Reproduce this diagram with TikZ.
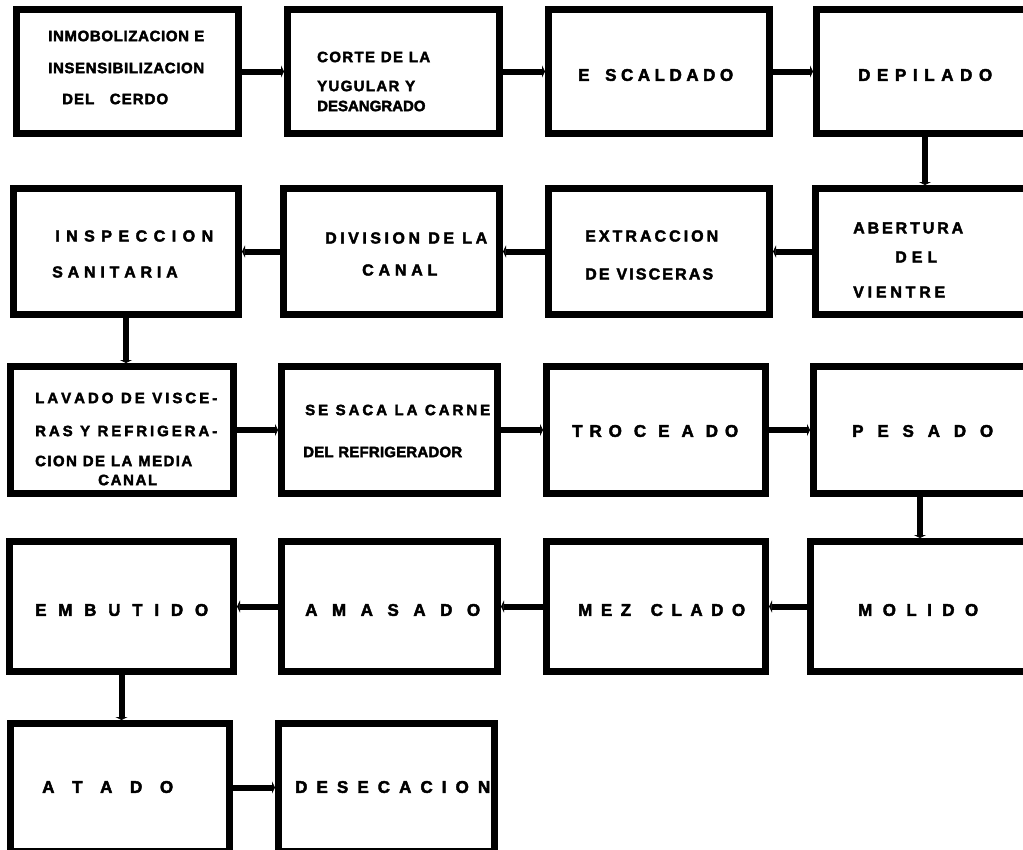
\documentclass[tikz,border=0pt]{standalone}
\usepackage{fontspec}
\setmainfont{Liberation Sans}[BoldFeatures={FakeBold=2.5}]
\usetikzlibrary{arrows.meta}
\XeTeXinterchartokenstate=0
\newXeTeXintercharclass\lettcls
\makeatletter
\@tempcnta=`A
\loop \XeTeXcharclass\@tempcnta=\lettcls \ifnum\@tempcnta<`Z \advance\@tempcnta 1 \repeat
\XeTeXcharclass`\-=\lettcls
\makeatother
\XeTeXinterchartoks\lettcls\lettcls={\hskip 0pt plus 1fil\relax}
\newcommand\spr[2]{\hbox to #1pt{\XeTeXinterchartokenstate=1\relax\spaceskip=.3em plus 1fil\relax #2}}
\tikzset{
  pbox/.style={draw, line width=7pt, rectangle, inner sep=0pt},
  conn/.style={line width=6pt, -{Triangle[length=3pt,width=12pt]}},
  tA/.style={anchor=west, inner sep=0pt, font=\bfseries\fontsize{15}{17}\selectfont},
  tB/.style={anchor=west, inner sep=0pt, font=\bfseries\fontsize{16}{18}\selectfont},
  tC/.style={anchor=west, inner sep=0pt, font=\bfseries\fontsize{17}{19}\selectfont},
}
\begin{document}
\begin{tikzpicture}[x=1pt,y=-1pt]
\useasboundingbox (0,0) rectangle (1023,849);
\clip (0,0) rectangle (1023,849);
% row 1
\node[pbox, minimum width=222pt, minimum height=124pt] (r1c1) at (127.5,71.5) {};
\node[pbox, minimum width=212pt, minimum height=124pt] (r1c2) at (393.5,71.5) {};
\node[pbox, minimum width=221pt, minimum height=124pt] (r1c3) at (659,71.5) {};
\node[pbox, minimum width=217pt, minimum height=124pt] (r1c4) at (925,71.5) {};
% row 2
\node[pbox, minimum width=225pt, minimum height=126pt] (r2c1) at (126,251.5) {};
\node[pbox, minimum width=216pt, minimum height=126pt] (r2c2) at (391.5,251.5) {};
\node[pbox, minimum width=221pt, minimum height=126pt] (r2c3) at (659,251.5) {};
\node[pbox, minimum width=219pt, minimum height=126pt] (r2c4) at (925,251.5) {};
% row 3
\node[pbox, minimum width=223pt, minimum height=127pt] (r3c1) at (122,430) {};
\node[pbox, minimum width=216pt, minimum height=127pt] (r3c2) at (389.5,430) {};
\node[pbox, minimum width=219pt, minimum height=127pt] (r3c3) at (656,430) {};
\node[pbox, minimum width=213pt, minimum height=127pt] (r3c4) at (920,430) {};
% row 4
\node[pbox, minimum width=224pt, minimum height=130pt] (r4c1) at (121.5,606.5) {};
\node[pbox, minimum width=216pt, minimum height=130pt] (r4c2) at (389.5,606.5) {};
\node[pbox, minimum width=219pt, minimum height=130pt] (r4c3) at (656,606.5) {};
\node[pbox, minimum width=219pt, minimum height=130pt] (r4c4) at (920,606.5) {};
% row 5
\node[pbox, minimum width=219pt, minimum height=128pt] (r5c1) at (120,787.5) {};
\node[pbox, minimum width=216pt, minimum height=128pt] (r5c2) at (386.5,787.5) {};
% texts
\node[tA] (t1) at (48,36) {\spr{156}{INMOBOLIZACION E}};
\node[tA] (t2) at (48,68) {\spr{156}{INSENSIBILIZACION}};
\node[tA] (t3) at (62,99) {\spr{106}{DEL \hspace{10pt}CERDO}};
\node[tA] (t4) at (317,57) {\spr{113}{CORTE DE LA}};
\node[tA] (t5) at (317,86) {\spr{98}{YUGULAR Y}};
\node[tA] (t6) at (317,106) {\spr{105}{DESANGRADO}};
\node[tC] (t7) at (578,75) {\spr{155}{E \hspace{6pt}SCALDADO}};
\node[tC] (t8) at (858,75) {\spr{134}{D E P I L A D O}};
\node[tB] (t9) at (55,236) {\spr{158}{I N S P E C C I O N}};
\node[tB] (t10) at (52,272) {\spr{123}{S A N I T A R I A}};
\node[tB] (t11) at (325,238) {\spr{162}{DIVISION DE LA}};
\node[tB] (t12) at (362,270) {\spr{66}{C A N A L}};
\node[tB] (t13) at (585,236) {\spr{133}{EXTRACCION}};
\node[tB] (t14) at (585,274) {\spr{128}{DE VISCERAS}};
\node[tB] (t15) at (853,228) {\spr{110}{ABERTURA}};
\node[tB] (t16) at (895,257) {\spr{42}{DEL}};
\node[tB] (t17) at (853,292) {\spr{92}{VIENTRE}};
\node[tA] (t18) at (35,398) {\spr{182}{LAVADO DE VISCE-}};
\node[tA] (t19) at (35,431) {\spr{182}{RAS Y REFRIGERA-}};
\node[tA] (t20) at (35,461) {\spr{157}{CION DE LA MEDIA}};
\node[tA] (t21) at (98,480) {\spr{59}{CANAL}};
\node[tA] (t22) at (305,410) {\spr{185}{SE SACA LA CARNE}};
\node[tA] (t23) at (303,452) {\spr{159}{DEL REFRIGERADOR}};
\node[tC] (t24) at (572,431) {\spr{166}{TRO C E A DO}};
\node[tC] (t25) at (852,431) {\spr{141}{P E S A D O}};
\node[tC] (t26) at (35,610) {\spr{173}{E M B U T I D O}};
\node[tC] (t27) at (305,610) {\spr{175}{A M A S A D O}};
\node[tC] (t28) at (578,610) {\spr{167}{MEZ \hspace{6pt}CLADO}};
\node[tC] (t29) at (858,610) {\spr{120}{M O L I D O}};
\node[tC] (t30) at (42,787) {\spr{131}{A T A D O}};
\node[tC] (t31) at (295,787) {\spr{195}{D E S E C A C I O N}};
% connectors
\draw[conn] (r1c1.east) -- (r1c2.west);
\draw[conn] (r1c2.east) -- (r1c3.west);
\draw[conn] (r1c3.east) -- (r1c4.west);
\draw[conn] (r1c4.south) -- (r1c4.south |- r2c4.north);
\draw[conn] (r2c4.west) -- (r2c3.east);
\draw[conn] (r2c3.west) -- (r2c2.east);
\draw[conn] (r2c2.west) -- (r2c1.east);
\draw[conn] (r2c1.south) -- (r2c1.south |- r3c1.north);
\draw[conn] (r3c1.east) -- (r3c2.west);
\draw[conn] (r3c2.east) -- (r3c3.west);
\draw[conn] (r3c3.east) -- (r3c4.west);
\draw[conn] (r3c4.south) -- (r3c4.south |- r4c4.north);
\draw[conn] (r4c4.west) -- (r4c3.east);
\draw[conn] (r4c3.west) -- (r4c2.east);
\draw[conn] (r4c2.west) -- (r4c1.east);
\draw[conn] (r4c1.south) -- (r4c1.south |- r5c1.north);
\draw[conn] (r5c1.east) -- (r5c2.west);
\end{tikzpicture}
\end{document}
